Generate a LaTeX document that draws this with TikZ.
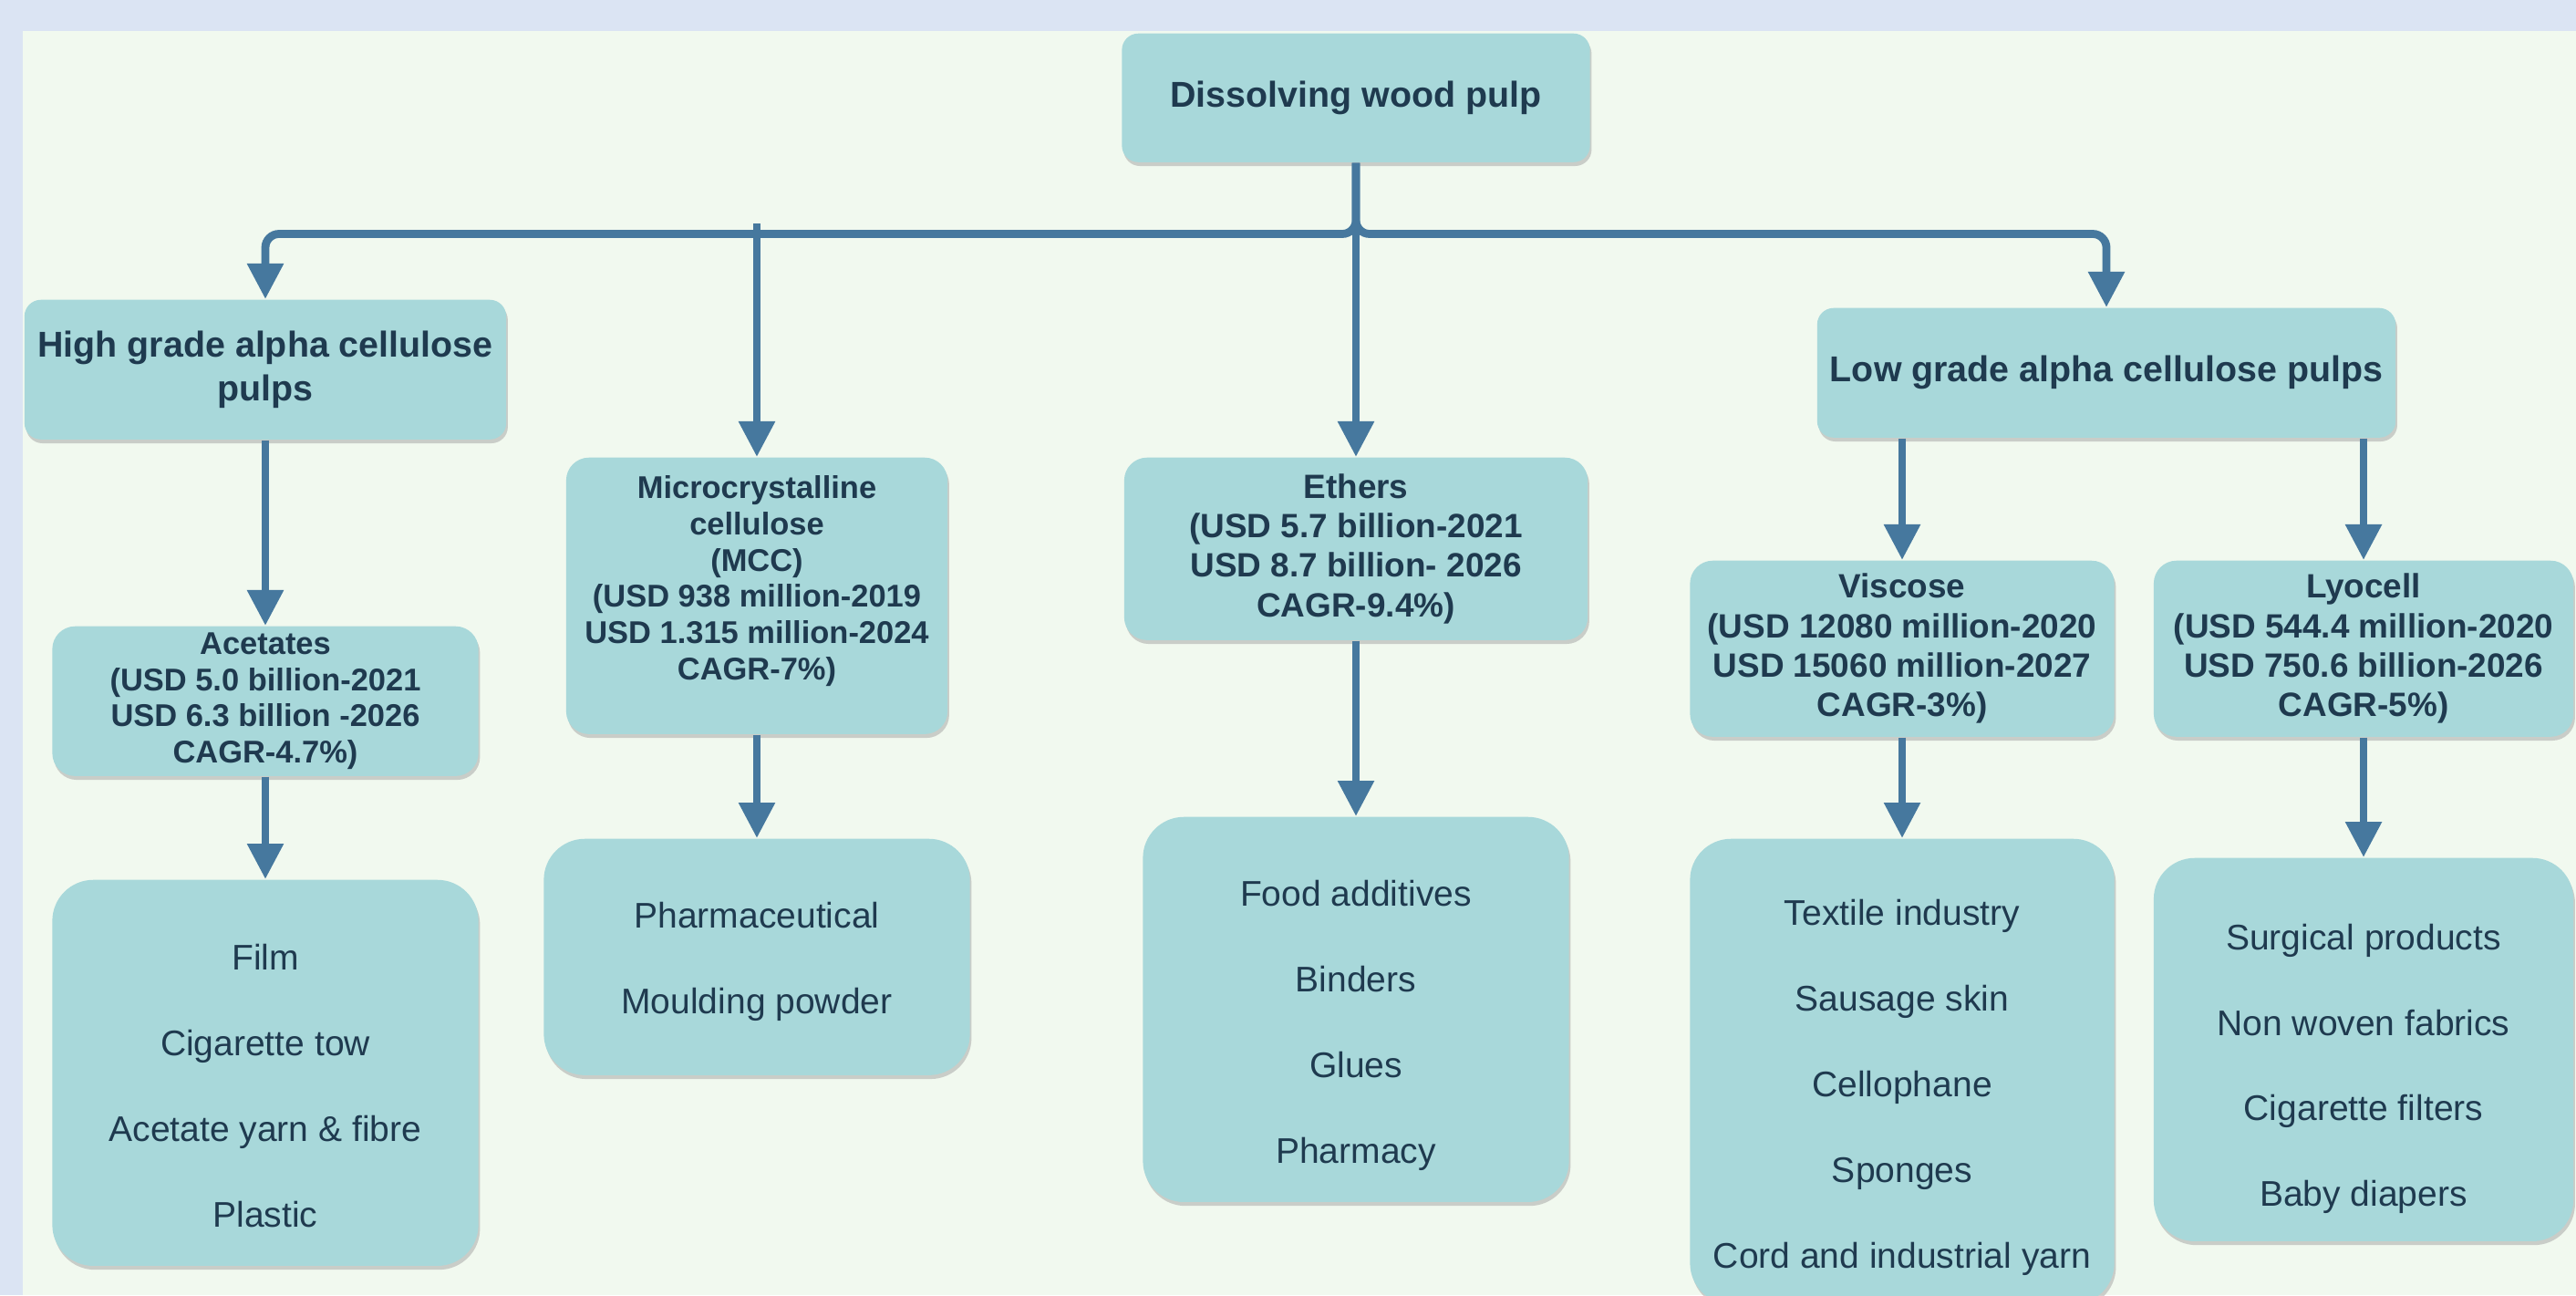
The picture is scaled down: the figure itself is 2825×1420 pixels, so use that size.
\documentclass[tikz,border=0pt]{standalone}
\usepackage{fontspec}
\setmainfont{Liberation Sans}
\usetikzlibrary{arrows.meta,positioning,shadows}
\definecolor{okvir}{HTML}{DBE4F3}
\definecolor{pozadina}{HTML}{F1F9EF}
\definecolor{tirkiz}{HTML}{A8D8DA}
\definecolor{tekst}{HTML}{1F3A4F}
\definecolor{linija}{HTML}{46789E}
\tikzset{
  blok/.style={fill=tirkiz,text=tekst,align=center,inner sep=2pt,
               drop shadow={shadow xshift=0.5pt,shadow yshift=-1.2pt,fill=black!40,opacity=0.45}},
  naslov/.style={blok,rounded corners=0.18cm,font=\bfseries\fontsize{11.2}{13.4}\selectfont},
  podaci/.style={blok,rounded corners=0.25cm,font=\bfseries\fontsize{10.5}{12.3}\selectfont},
  sitno/.style={font=\bfseries\fontsize{9.8}{11.3}\selectfont},
  primene/.style={blok,rounded corners=0.45cm,font=\fontsize{11.1}{26.7}\selectfont},
  str/.style={-{Triangle[length=0.39cm,width=0.38cm]},line width=2.5pt,draw=linija,
              rounded corners=0.15cm},
}

\begin{document}
\begin{tikzpicture}[x=0.01cm,y=-0.01cm]

  % ---------- POZADINA ----------
  \useasboundingbox (0,0) rectangle (2825,1420);
  \fill[okvir] (0,0) rectangle (2825,1420);
  \fill[pozadina] (25,34) rectangle (2825,1420);

  % ---------- KOREN I DVE GRUPE ----------
  \node[naslov,minimum width=5.13cm,minimum height=1.41cm,anchor=north] (pulp) at (1487,36)
       {Dissolving wood pulp};
  \node[naslov,minimum width=5.28cm,minimum height=1.53cm,anchor=north] (high) at (291,328)
       {High grade alpha cellulose\\pulps};
  \node[naslov,minimum width=6.34cm,minimum height=1.42cm,anchor=north] (low) at (2310,337)
       {Low grade alpha cellulose pulps};

  % ---------- PROIZVODI SA TRZISNIM PODACIMA ----------
  \node[podaci,sitno,minimum width=4.67cm,minimum height=1.64cm,anchor=north] (acet) at (291,686)
       {Acetates\\(USD 5.0 billion-2021\\USD 6.3 billion -2026\\CAGR-4.7\%)};
  \node[podaci,sitno,minimum width=4.18cm,minimum height=3.03cm,anchor=north] (mcc) at (830,501)
       {Microcrystalline\\cellulose\\(MCC)\\(USD 938 million-2019\\USD 1.315 million-2024\\CAGR-7\%)\\\mbox{}};
  \node[podaci,minimum width=5.08cm,minimum height=2.0cm,anchor=north] (eter) at (1487,501)
       {Ethers\\(USD 5.7 billion-2021\\USD 8.7 billion- 2026\\CAGR-9.4\%)};
  \node[podaci,minimum width=4.65cm,minimum height=1.93cm,anchor=north] (visk) at (2086,614)
       {Viscose\\(USD 12080 million-2020\\USD 15060 million-2027\\CAGR-3\%)};
  \node[podaci,minimum width=4.6cm,minimum height=1.93cm,anchor=north] (lyo) at (2592,614)
       {Lyocell\\(USD 544.4 million-2020\\USD 750.6 billion-2026\\CAGR-5\%)};

  % ---------- PRIMENE (\rule spusta tekst kao u originalu) ----------
  \node[primene,minimum width=4.67cm,minimum height=4.23cm,anchor=north] (pAcet) at (291,964)
       {\rule{0pt}{16pt}Film\\Cigarette tow\\Acetate yarn \& fibre\\Plastic};
  \node[primene,minimum width=4.67cm,minimum height=2.59cm,anchor=north] (pMcc) at (830,919)
       {\rule{0pt}{11pt}Pharmaceutical\\Moulding powder};
  \node[primene,minimum width=4.67cm,minimum height=4.22cm,anchor=north] (pEter) at (1487,895)
       {\rule{0pt}{18pt}Food additives\\Binders\\Glues\\Pharmacy};
  \node[primene,minimum width=4.65cm,minimum height=5.1cm,anchor=north] (pVisk) at (2086,919)
       {\rule{0pt}{18pt}Textile industry\\Sausage skin\\Cellophane\\Sponges\\Cord and industrial yarn};
  \node[primene,minimum width=4.6cm,minimum height=4.2cm,anchor=north] (pLyo) at (2592,940)
       {\rule{0pt}{20pt}Surgical products\\Non woven fabrics\\Cigarette filters\\Baby diapers};

  % ---------- STRELICE ----------
  \draw[str] (pulp.south) -- ++(0,78) -| (high.north);
  \draw[str] (pulp.south) -- ++(0,78) -| (low.north);
  \draw[str] (pulp.south) -- (eter.north);
  \coordinate (mccVrh) at (830,245);
  \draw[str] (mccVrh) -- (mcc.north);

  \draw[str] (high.south) -- (acet.north);
  \draw[str] (low.south -| visk.north) -- (visk.north);
  \draw[str] (low.south -| lyo.north) -- (lyo.north);

  \draw[str] (acet.south) -- (pAcet.north);
  \draw[str] (mcc.south)  -- (pMcc.north);
  \draw[str] (eter.south) -- (pEter.north);
  \draw[str] (visk.south) -- (pVisk.north);
  \draw[str] (lyo.south)  -- (pLyo.north);

\end{tikzpicture}
\end{document}
